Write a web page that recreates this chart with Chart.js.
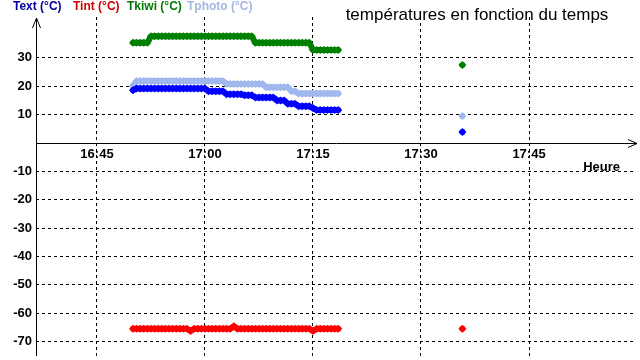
<!DOCTYPE html>
<html>
<head>
<meta charset="utf-8">
<script src="https://cdn.jsdelivr.net/npm/chart.js@4/dist/chart.umd.min.js"></script>
<style>
  html, body { margin: 0; padding: 0; background: #ffffff; }
  #wrap { width: 640px; height: 360px; }
</style>
</head>
<body>
<div id="wrap"><canvas id="c" width="640" height="360"></canvas></div>
<script>
// time of each reading, in minutes since midnight (1010 = 16:50); 1047 is a gap
const times = [
  1010,1010.5,1011,1011.5,1012,1012.5,1013,1013.5,1014,1014.5,
  1015,1015.5,1016,1016.5,1017,1017.5,1018,1018.5,1019,1019.5,
  1020,1020.5,1021,1021.5,1022,1022.5,1023,1023.5,1024,1024.5,
  1025,1025.5,1026,1026.5,1027,1027.5,1028,1028.5,1029,1029.5,
  1030,1030.5,1031,1031.5,1032,1032.5,1033,1033.5,1034,1034.5,
  1035,1035.5,1036,1036.5,1037,1037.5,1038,1038.5,
  1047, 1055.75
];
const seriesNames = ['Text (°C)', 'Tint (°C)', 'Tkiwi (°C)', 'Tphoto (°C)'];
const textValues = [
  18.6,
  19.2,19.2,19.2,19.2,19.2,19.2,19.2,19.2,19.2,19.2,
  19.2,19.2,19.2,19.2,19.2,19.2,19.2,19.2,19.2,19.2,
  18.2,18.2,18.2,18.2,18.2,
  17.2,17.2,17.2,17.2,17.2,
  16.8,16.8,16.8,
  16.0,16.0,16.0,16.0,16.0,16.0,
  15.0,15.0,15.0,
  13.8,13.8,13.8,
  12.9,12.9,12.9,12.9,
  12.3,
  11.6,11.6,11.6,11.6,11.6,11.6,11.6,
  null, 3.9
];
const tintValues = [
  -65.5,-65.5,-65.5,-65.5,-65.5,-65.5,-65.5,-65.5,-65.5,-65.5,
  -65.5,-65.5,-65.5,-65.5,-65.5,-65.5,-66.3,-65.5,-65.5,-65.5,
  -65.5,-65.5,-65.5,-65.5,-65.5,-65.5,-65.5,-65.5,-64.6,-65.5,
  -65.5,-65.5,-65.5,-65.5,-65.5,-65.5,-65.5,-65.5,-65.5,-65.5,
  -65.5,-65.5,-65.5,-65.5,-65.5,-65.5,-65.5,-65.5,-65.5,-65.5,
  -66.3,-65.5,-65.5,-65.5,-65.5,-65.5,-65.5,-65.5,
  null, -65.5
];
const tkiwiValues = [
  35.3,35.3,35.3,35.3,35.3,
  37.6,37.6,37.6,37.6,37.6,37.6,37.6,37.6,37.6,37.6,
  37.6,37.6,37.6,37.6,37.6,37.6,37.6,37.6,37.6,37.6,
  37.6,37.6,37.6,37.6,37.6,37.6,37.6,37.6,37.6,
  35.3,35.3,35.3,35.3,35.3,35.3,35.3,35.3,
  35.3,35.3,35.3,35.3,35.3,35.3,35.3,35.3,
  32.8,32.8,32.8,32.8,32.8,32.8,32.8,32.8,
  null, 27.5
];
const tphotoValues = [
  20.2,
  21.8,21.8,21.8,21.8,21.8,21.8,21.8,21.8,21.8,21.8,
  21.8,21.8,21.8,21.8,21.8,21.8,21.8,21.8,21.8,21.8,
  21.8,21.8,21.8,21.8,21.8,
  20.8,20.8,20.8,20.8,20.8,20.8,20.8,20.8,20.8,20.8,20.8,
  19.6,19.6,19.6,19.6,19.6,19.6,19.6,
  18.2,18.2,
  17.4,17.4,17.4,17.4,17.4,17.4,17.4,17.4,17.4,17.4,17.4,17.4,
  null, 9.5
];
const xTickLabels = ['16:45', '17:00', '17:15', '17:30', '17:45'];
const yTickValues = [30, 20, 10, -10, -20, -30, -40, -50, -60, -70];
const chartTitle = 'températures en fonction du temps';
const xAxisTitle = 'Heure';

const lineColors = ['#0000ff', '#ff0000', '#008000', '#a0b8ee'];
const legendColors = ['#00009a', '#d00000', '#007a00', '#a4b6e2'];

function toMinutes(s) { const p = s.split(':'); return (+p[0]) * 60 + (+p[1]); }
function fmt(m) { const h = Math.floor(m / 60), mm = Math.round(m - h * 60); return h + ':' + String(mm).padStart(2, '0'); }
const xTickValues = xTickLabels.map(toMinutes);

const allValues = [textValues, tintValues, tkiwiValues, tphotoValues];
const datasets = allValues.map((vals, k) => ({
  label: seriesNames[k],
  data: times.map((t, i) => ({ x: t, y: vals[i] })),
  showLine: true,
  spanGaps: false,
  borderColor: lineColors[k],
  backgroundColor: lineColors[k],
  borderWidth: 6,
  borderJoinStyle: 'round',
  borderCapStyle: 'round',
  pointStyle: 'rectRot',
  pointRadius: 4,
  pointBorderWidth: 0,
  pointBackgroundColor: lineColors[k],
  pointHoverRadius: 4
}));

const FONT = '"Liberation Sans", Arial, sans-serif';

const decor = {
  id: 'decor',
  beforeDatasetsDraw(chart) {
    const { ctx, chartArea: a, scales: { y } } = chart;
    const y0 = Math.round(y.getPixelForValue(0)) + 0.5;
    const xl = a.left + 0.5;
    ctx.save();
    ctx.strokeStyle = '#000';
    ctx.lineWidth = 1;
    ctx.setLineDash([]);
    ctx.beginPath();
    ctx.moveTo(xl, a.bottom); ctx.lineTo(xl, a.top + 1);
    ctx.moveTo(xl - 4, a.top + 11); ctx.lineTo(xl, a.top + 1); ctx.lineTo(xl + 4, a.top + 11);
    ctx.moveTo(a.left, y0); ctx.lineTo(a.right + 1, y0);
    ctx.moveTo(a.right - 8, y0 - 4); ctx.lineTo(a.right + 1, y0); ctx.lineTo(a.right - 8, y0 + 4);
    ctx.stroke();
    ctx.restore();
  },
  afterDraw(chart) {
    const { ctx, scales: { y } } = chart;
    ctx.save();
    ctx.textBaseline = 'middle';
    ctx.textAlign = 'left';
    ctx.font = 'bold 12px ' + FONT;
    const legendX = [13, 73, 127, 187];
    seriesNames.forEach((n, k) => {
      ctx.fillStyle = legendColors[k];
      ctx.fillText(n, legendX[k], 7);
    });
    ctx.fillStyle = '#000';
    ctx.textAlign = 'right';
    ctx.font = 'bold 13px ' + FONT;
    ctx.fillText(xAxisTitle, 620, y.getPixelForValue(0) + 24);
    ctx.textAlign = 'center';
    ctx.font = '17px ' + FONT;
    ctx.fillText(chartTitle, 477, 15);
    ctx.restore();
  }
};

new Chart(document.getElementById('c'), {
  type: 'scatter',
  data: { datasets },
  options: {
    responsive: false,
    animation: false,
    events: [],
    layout: { padding: { left: 0, right: 4, top: 17, bottom: 0 } },
    plugins: { legend: { display: false }, tooltip: { enabled: false }, title: { display: false } },
    scales: {
      x: {
        type: 'linear',
        position: { y: 0 },
        min: 996.53,
        max: 1079.86,
        afterBuildTicks(s) { s.ticks = xTickValues.map(v => ({ value: v })); },
        afterFit(s) { s.paddingLeft = 0; s.paddingRight = 0; },
        ticks: {
          callback: v => fmt(v),
          font: { family: FONT, size: 13, weight: 'bold' },
          color: '#000',
          padding: 4,
          maxRotation: 0,
          autoSkip: false
        },
        grid: { color: '#000', lineWidth: 1, drawTicks: false },
        border: { display: false, dash: [3, 3] }
      },
      y: {
        type: 'linear',
        position: 'left',
        min: -75.1,
        max: 44.4,
        afterBuildTicks(s) { s.ticks = yTickValues.map(v => ({ value: v })); },
        afterFit(s) { s.width = 36; s.paddingTop = 0; s.paddingBottom = 0; },
        ticks: {
          font: { family: FONT, size: 13, weight: 'bold' },
          color: '#000',
          padding: 4,
          autoSkip: false
        },
        grid: { color: '#000', lineWidth: 1, drawTicks: false },
        border: { display: false, dash: [3, 3] }
      }
    }
  },
  plugins: [decor]
});
</script>
</body>
</html>
